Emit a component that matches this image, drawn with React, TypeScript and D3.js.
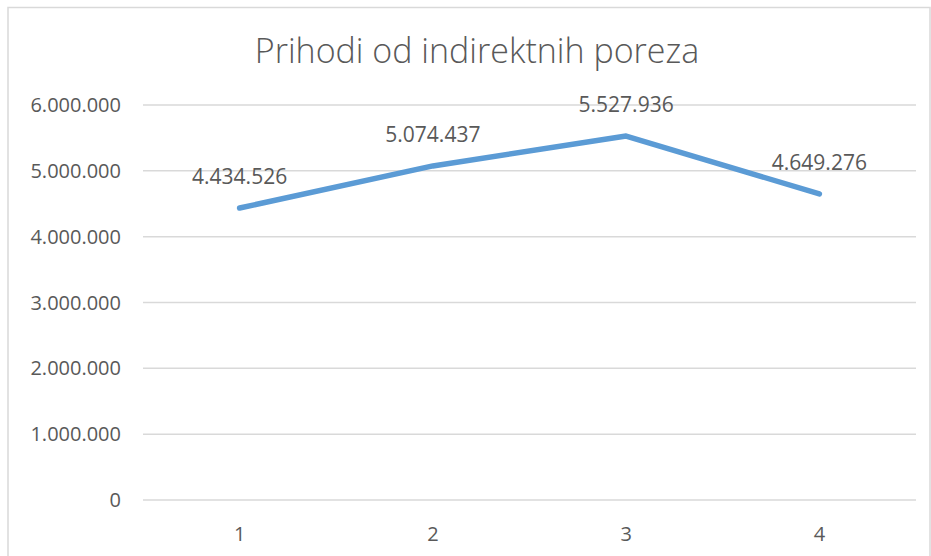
import React from "react";
import * as d3 from "d3";

const title = "Prihodi od indirektnih poreza";
const categories = ["1", "2", "3", "4"];
const values = [4434526, 5074437, 5527936, 4649276];
const yTicks = [0, 1000000, 2000000, 3000000, 4000000, 5000000, 6000000];

const W = 931;
const H = 556;

const fmt = (v: number) => {
  const s = d3.format(",")(v);
  return s.replace(/,/g, ".");
};

export default function App() {
  const left = 143;
  const right = 916;
  const top = 105;
  const bottom = 500;

  const x = d3.scaleBand<string>().domain(categories).range([left, right]);
  const y = d3.scaleLinear().domain([0, 6000000]).range([bottom, top]);

  const line = d3
    .line<number>()
    .x((_, i) => (x(categories[i]) as number) + x.bandwidth() / 2)
    .y((d) => y(d));

  const font = "'Open Sans', sans-serif";
  const textColor = "#595959";

  return (
    <svg
      width={W}
      height={H}
      style={{ position: "absolute", left: 0, top: 0, background: "#fff" }}
      fontFamily={font}
    >
      <rect x={0} y={0} width={W} height={H} fill="#fff" />
      <rect x={8} y={7.5} width={922} height={560} fill="none" stroke="#d9d9d9" strokeWidth={1.5} />
      <text x={477} y={63} textAnchor="middle" fontSize={34} fontWeight={300} fill={textColor}>
        {title}
      </text>
      {yTicks.map((t) => (
        <g key={t}>
          <line x1={left} x2={right} y1={y(t)} y2={y(t)} stroke="#d9d9d9" strokeWidth={1.5} />
          <text x={121} y={y(t) + 7} textAnchor="end" fontSize={20} fill={textColor}>
            {fmt(t)}
          </text>
        </g>
      ))}
      {categories.map((c) => (
        <text
          key={c}
          x={(x(c) as number) + x.bandwidth() / 2}
          y={541}
          textAnchor="middle"
          fontSize={20}
          fill={textColor}
        >
          {c}
        </text>
      ))}
      <path
        d={line(values) || ""}
        fill="none"
        stroke="#5b9bd5"
        strokeWidth={5.5}
        strokeLinecap="round"
        strokeLinejoin="round"
      />
      {values.map((v, i) => (
        <text
          key={i}
          x={(x(categories[i]) as number) + x.bandwidth() / 2}
          y={y(v) - 24}
          textAnchor="middle"
          fontSize={21}
          fill={textColor}
        >
          {fmt(v)}
        </text>
      ))}
    </svg>
  );
}
